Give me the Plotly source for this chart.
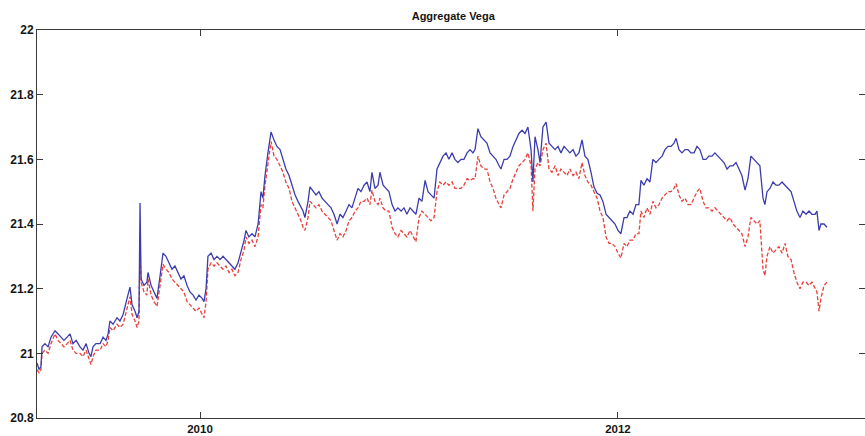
import plotly.graph_objects as go

# time in fractional years
t = [2009.220, 2009.230, 2009.239, 2009.244, 2009.258, 2009.273, 2009.287, 2009.306, 2009.321, 2009.335,
     2009.349, 2009.364, 2009.378, 2009.392, 2009.407, 2009.426, 2009.440, 2009.455, 2009.469, 2009.478,
     2009.488, 2009.502, 2009.522, 2009.536, 2009.550, 2009.560, 2009.569, 2009.584, 2009.603, 2009.617,
     2009.632, 2009.651, 2009.665, 2009.675, 2009.689, 2009.699, 2009.708, 2009.713, 2009.718, 2009.732,
     2009.746, 2009.751, 2009.766, 2009.780, 2009.794, 2009.809, 2009.823, 2009.837, 2009.852, 2009.866,
     2009.880, 2009.895, 2009.909, 2009.923, 2009.938, 2009.952, 2009.967, 2009.981, 2009.995, 2010.010,
     2010.019, 2010.029, 2010.038, 2010.053, 2010.067, 2010.081, 2010.096, 2010.110, 2010.124, 2010.139,
     2010.153, 2010.167, 2010.182, 2010.196, 2010.211, 2010.220, 2010.234, 2010.249, 2010.263, 2010.278,
     2010.292, 2010.301, 2010.311, 2010.325, 2010.340, 2010.354, 2010.368, 2010.383, 2010.397, 2010.411,
     2010.426, 2010.440, 2010.455, 2010.469, 2010.483, 2010.493, 2010.502, 2010.517, 2010.526, 2010.541,
     2010.555, 2010.569, 2010.584, 2010.598, 2010.612, 2010.627, 2010.641, 2010.656, 2010.670, 2010.684,
     2010.699, 2010.713, 2010.727, 2010.742, 2010.756, 2010.770, 2010.785, 2010.799, 2010.813, 2010.823,
     2010.837, 2010.852, 2010.861, 2010.876, 2010.890, 2010.904, 2010.919, 2010.933, 2010.947, 2010.962,
     2010.976, 2010.990, 2011.005, 2011.019, 2011.033, 2011.048, 2011.062, 2011.077, 2011.091, 2011.105,
     2011.120, 2011.134, 2011.148, 2011.163, 2011.177, 2011.191, 2011.206, 2011.220, 2011.234, 2011.249,
     2011.263, 2011.278, 2011.292, 2011.306, 2011.316, 2011.330, 2011.344, 2011.359, 2011.373, 2011.388,
     2011.402, 2011.416, 2011.431, 2011.440, 2011.455, 2011.469, 2011.483, 2011.498, 2011.512, 2011.526,
     2011.541, 2011.555, 2011.569, 2011.584, 2011.593, 2011.603, 2011.617, 2011.627, 2011.641, 2011.656,
     2011.670, 2011.684, 2011.699, 2011.713, 2011.727, 2011.742, 2011.756, 2011.770, 2011.785, 2011.799,
     2011.813, 2011.828, 2011.842, 2011.856, 2011.871, 2011.885, 2011.900, 2011.914, 2011.928, 2011.943,
     2011.957, 2011.971, 2011.986, 2012.000, 2012.014, 2012.029, 2012.043, 2012.057, 2012.072, 2012.086,
     2012.100, 2012.110, 2012.124, 2012.139, 2012.153, 2012.167, 2012.182, 2012.196, 2012.211, 2012.225,
     2012.239, 2012.254, 2012.268, 2012.278, 2012.292, 2012.306, 2012.321, 2012.335, 2012.349, 2012.364,
     2012.378, 2012.392, 2012.407, 2012.421, 2012.435, 2012.450, 2012.464, 2012.478, 2012.493, 2012.507,
     2012.522, 2012.536, 2012.550, 2012.565, 2012.579, 2012.593, 2012.608, 2012.622, 2012.636, 2012.651,
     2012.665, 2012.679, 2012.694, 2012.703, 2012.713, 2012.727, 2012.742, 2012.756, 2012.770, 2012.785,
     2012.799, 2012.813, 2012.828, 2012.842, 2012.856, 2012.871, 2012.885, 2012.900, 2012.914, 2012.928,
     2012.943, 2012.952, 2012.962, 2012.971, 2012.986, 2013.000]

vega_blue = [20.97, 20.95, 20.96, 21.02, 21.03, 21.02, 21.05, 21.07, 21.06, 21.05,
             21.04, 21.05, 21.06, 21.03, 21.04, 21.02, 21.01, 21.03, 21.00, 20.99,
             21.02, 21.03, 21.03, 21.05, 21.04, 21.06, 21.10, 21.09, 21.11, 21.10,
             21.12, 21.17, 21.205, 21.15, 21.13, 21.11, 21.13, 21.465, 21.23, 21.21,
             21.22, 21.25, 21.21, 21.19, 21.17, 21.24, 21.31, 21.30, 21.28, 21.26,
             21.27, 21.25, 21.23, 21.24, 21.21, 21.19, 21.18, 21.165, 21.18, 21.17,
             21.16, 21.20, 21.30, 21.31, 21.29, 21.30, 21.29, 21.30, 21.29, 21.28,
             21.27, 21.26, 21.28, 21.31, 21.35, 21.38, 21.36, 21.37, 21.36, 21.40,
             21.50, 21.48, 21.55, 21.62, 21.685, 21.66, 21.64, 21.63, 21.60, 21.57,
             21.55, 21.52, 21.49, 21.47, 21.45, 21.44, 21.42, 21.47, 21.515, 21.50,
             21.49, 21.50, 21.48, 21.47, 21.46, 21.45, 21.43, 21.40, 21.43, 21.42,
             21.44, 21.46, 21.45, 21.48, 21.51, 21.50, 21.52, 21.53, 21.50, 21.56,
             21.51, 21.52, 21.56, 21.52, 21.51, 21.50, 21.46, 21.44, 21.45, 21.44,
             21.45, 21.43, 21.45, 21.44, 21.43, 21.48, 21.47, 21.535, 21.50, 21.49,
             21.48, 21.57, 21.59, 21.61, 21.62, 21.60, 21.62, 21.60, 21.59, 21.60,
             21.60, 21.62, 21.63, 21.62, 21.63, 21.695, 21.67, 21.66, 21.65, 21.62,
             21.61, 21.60, 21.58, 21.57, 21.60, 21.60, 21.61, 21.64, 21.66, 21.68,
             21.69, 21.68, 21.70, 21.63, 21.53, 21.67, 21.63, 21.59, 21.70, 21.715,
             21.65, 21.64, 21.63, 21.64, 21.62, 21.64, 21.63, 21.62, 21.63, 21.61,
             21.62, 21.66, 21.61, 21.60, 21.56, 21.515, 21.495, 21.49, 21.47, 21.43,
             21.42, 21.41, 21.40, 21.38, 21.37, 21.42, 21.42, 21.44, 21.43, 21.46,
             21.46, 21.535, 21.52, 21.54, 21.53, 21.60, 21.59, 21.60, 21.61, 21.63,
             21.64, 21.64, 21.65, 21.665, 21.63, 21.62, 21.63, 21.63, 21.62, 21.62,
             21.64, 21.63, 21.60, 21.60, 21.61, 21.61, 21.62, 21.61, 21.60, 21.59,
             21.57, 21.58, 21.58, 21.59, 21.57, 21.55, 21.505, 21.54, 21.61, 21.60,
             21.59, 21.58, 21.48, 21.46, 21.50, 21.51, 21.53, 21.52, 21.52, 21.53,
             21.52, 21.51, 21.50, 21.47, 21.44, 21.42, 21.44, 21.43, 21.44, 21.43,
             21.43, 21.44, 21.38, 21.40, 21.40, 21.39]

vega_red = [20.95, 20.94, 20.95, 21.00, 21.01, 21.00, 21.03, 21.06, 21.04, 21.03,
            21.02, 21.03, 21.04, 21.01, 21.00, 21.00, 20.99, 21.01, 20.98, 20.965,
            20.99, 21.01, 21.01, 21.03, 21.02, 21.04, 21.08, 21.07, 21.09, 21.08,
            21.09, 21.14, 21.175, 21.12, 21.10, 21.08, 21.10, 21.32, 21.22, 21.19,
            21.18, 21.23, 21.18, 21.16, 21.145, 21.21, 21.275, 21.26, 21.25, 21.23,
            21.22, 21.21, 21.20, 21.19, 21.16, 21.15, 21.14, 21.13, 21.14, 21.12,
            21.11, 21.16, 21.26, 21.28, 21.27, 21.28, 21.27, 21.26, 21.27, 21.25,
            21.26, 21.24, 21.25, 21.29, 21.32, 21.36, 21.34, 21.35, 21.33, 21.36,
            21.46, 21.45, 21.52, 21.58, 21.655, 21.61, 21.60, 21.58, 21.56, 21.53,
            21.51, 21.47, 21.45, 21.43, 21.41, 21.39, 21.38, 21.42, 21.47, 21.46,
            21.45, 21.46, 21.44, 21.43, 21.42, 21.41, 21.38, 21.35, 21.37, 21.36,
            21.38, 21.41, 21.42, 21.44, 21.45, 21.47, 21.47, 21.48, 21.46, 21.505,
            21.47, 21.46, 21.48, 21.45, 21.44, 21.44, 21.39, 21.37, 21.36, 21.38,
            21.37, 21.36, 21.38, 21.36, 21.345, 21.42, 21.44, 21.43, 21.42, 21.41,
            21.42, 21.50, 21.53, 21.52, 21.53, 21.52, 21.53, 21.51, 21.51, 21.51,
            21.52, 21.54, 21.535, 21.54, 21.54, 21.61, 21.58, 21.57, 21.57, 21.53,
            21.51, 21.48, 21.46, 21.45, 21.49, 21.50, 21.51, 21.54, 21.56, 21.58,
            21.59, 21.60, 21.62, 21.58, 21.44, 21.57, 21.59, 21.58, 21.63, 21.65,
            21.57, 21.56, 21.58, 21.55, 21.57, 21.56, 21.55, 21.57, 21.55, 21.56,
            21.54, 21.59, 21.55, 21.53, 21.52, 21.50, 21.48, 21.44, 21.42, 21.36,
            21.34, 21.34, 21.33, 21.31, 21.295, 21.34, 21.33, 21.35, 21.35, 21.37,
            21.37, 21.44, 21.42, 21.45, 21.43, 21.47, 21.45, 21.46, 21.48, 21.49,
            21.50, 21.50, 21.51, 21.525, 21.49, 21.47, 21.48, 21.46, 21.46, 21.48,
            21.50, 21.51, 21.47, 21.45, 21.45, 21.44, 21.45, 21.44, 21.43, 21.42,
            21.41, 21.42, 21.40, 21.39, 21.38, 21.37, 21.33, 21.36, 21.42, 21.41,
            21.40, 21.41, 21.26, 21.24, 21.30, 21.33, 21.31, 21.32, 21.33, 21.31,
            21.34, 21.30, 21.29, 21.25, 21.22, 21.20, 21.22, 21.22, 21.21, 21.22,
            21.20, 21.19, 21.13, 21.17, 21.21, 21.22]

y_ticks = [20.8, 21.0, 21.2, 21.4, 21.6, 21.8, 22.0]
y_tick_labels = ["20.8", "21", "21.2", "21.4", "21.6", "21.8", "22"]
x_ticks = [2010, 2012]
x_tick_labels = ["2010", "2012"]

font_family = "Liberation Sans, Arial, sans-serif"
tick_font = dict(family=font_family, size=12, color="#151515", weight="bold")
x_tick_font = dict(family=font_family, size=11.5, color="#151515", weight="bold")

fig = go.Figure()
fig.add_trace(go.Scatter(x=t, y=vega_red, mode="lines",
                         line=dict(color="#e8403a", width=1.3, dash="4px,2px"),
                         hoverinfo="skip"))
fig.add_trace(go.Scatter(x=t, y=vega_blue, mode="lines",
                         line=dict(color="#3c3cae", width=1.3),
                         hoverinfo="skip"))

axis_common = dict(showgrid=False, zeroline=False, showline=True, linecolor="#3a3a3a",
                   linewidth=1, ticks="inside", tickcolor="#3a3a3a", ticklen=6,
                   mirror="ticks", automargin=False)

fig.update_layout(
    width=865, height=436,
    margin=dict(l=37, r=0, t=30, b=18),
    paper_bgcolor="white", plot_bgcolor="white",
    showlegend=False,
    title=dict(text="Aggregate Vega", x=0.524, xanchor="center", y=0.962, yanchor="middle",
               font=dict(family=font_family, size=11, color="#151515", weight="bold")),
    xaxis=dict(range=[2009.220, 2013.182], tickvals=x_ticks, ticktext=x_tick_labels,
               tickfont=x_tick_font, ticklabelstandoff=0, **axis_common),
    yaxis=dict(range=[20.8, 22.0], tickvals=y_ticks, ticktext=y_tick_labels,
               tickfont=tick_font, **axis_common),
)

fig.write_html("out.html")
